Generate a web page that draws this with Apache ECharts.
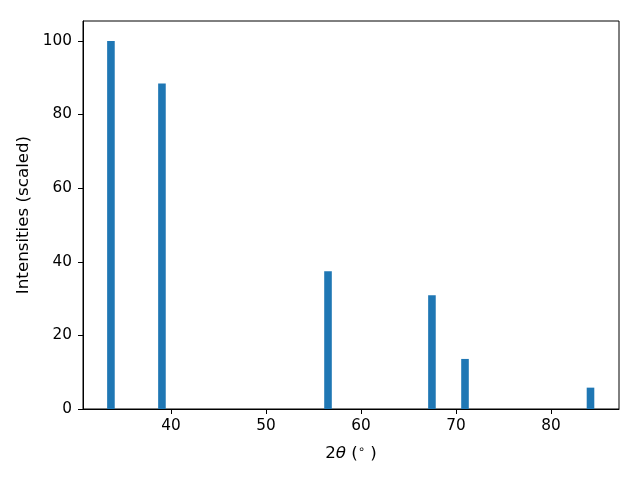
<!DOCTYPE html>
<html>
<head>
<meta charset="utf-8">
<script src="https://cdn.jsdelivr.net/npm/echarts@6/dist/echarts.min.js"></script>
<style>html,body{margin:0;padding:0;background:#fff}#c{width:640px;height:480px}</style>
</head>
<body>
<div id="c"></div>
<script>
const twoTheta = [33.68, 39.05, 56.53, 67.47, 70.95, 84.16];
const intensity = [100, 88.4, 37.4, 30.9, 13.6, 5.8];
const xTicks = [40, 50, 60, 70, 80];
const yTicks = [0, 20, 40, 60, 80, 100];

const chart = echarts.init(document.getElementById('c'), null, {renderer: 'canvas'});
const font = 'DejaVu Sans';
const fs = 15.3;
const fn = 16.7;
chart.setOption({
  animation: false,
  backgroundColor: '#fff',
  grid: {left: 83, right: 21, top: 21, bottom: 71, show: true, borderColor: '#000', borderWidth: 1, containLabel: false},
  xAxis: {
    type: 'value', min: 30.74, max: 87.16,
    name: '2{i|θ} ({s|∘} )', nameLocation: 'middle', nameGap: 35,
    nameTextStyle: {fontFamily: font, fontSize: fn, color: '#000',
      rich: {i: {fontFamily: font, fontSize: fn, fontStyle: 'italic', color: '#000'},
             s: {fontFamily: font, fontSize: 11.5, color: '#000', verticalAlign: 'top', padding: [0,0,8,0]}}},
    axisLine: {show: true, onZero: false, lineStyle: {color: '#000', width: 1}},
    axisTick: {show: true, inside: false, length: 5, lineStyle: {color: '#000'}, customValues: xTicks},
    axisLabel: {show: true, color: '#000', fontFamily: font, fontSize: fs, margin: 10, customValues: xTicks},
    splitLine: {show: false}
  },
  yAxis: {
    type: 'value', min: 0, max: 105.4, interval: 20,
    name: 'Intensities (scaled)', nameLocation: 'middle', nameGap: 44, nameRotate: 90,
    nameTextStyle: {fontFamily: font, fontSize: fn, color: '#000'},
    axisLine: {show: true, lineStyle: {color: '#000', width: 1}},
    axisTick: {show: true, inside: false, length: 5, lineStyle: {color: '#000'}, customValues: yTicks},
    axisLabel: {show: true, color: '#000', fontFamily: font, fontSize: fs, margin: 11, customValues: yTicks},
    splitLine: {show: false}
  },
  series: [{
    type: 'bar',
    barWidth: 7.6,
    itemStyle: {color: '#1f77b4'},
    data: twoTheta.map((x, i) => [x, intensity[i]])
  }]
});
</script>
</body>
</html>
